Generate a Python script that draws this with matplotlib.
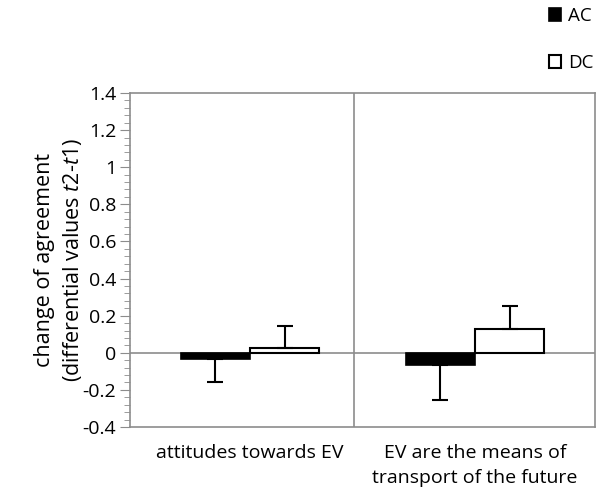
import matplotlib.pyplot as plt
import numpy as np
from matplotlib.ticker import MultipleLocator, FuncFormatter

plt.rcParams['font.family'] = ['Open Sans', 'DejaVu Sans']
plt.rcParams['mathtext.fontset'] = 'custom'
plt.rcParams['mathtext.it'] = 'Open Sans:italic'
plt.rcParams['mathtext.rm'] = 'Open Sans'

categories = ['attitudes towards EV', 'EV are the means of\ntransport of the future']
ac_values = [-0.035, -0.064]
ac_errors = [0.125, 0.19]
dc_values = [0.027, 0.128]
dc_errors = [0.12, 0.125]

gray = '#8c8c8c'
x = np.arange(len(categories))
w = 0.307

fig = plt.figure(figsize=(6.06, 4.91), dpi=100)
ax = fig.add_axes([130 / 606, 1 - 427 / 491, 465 / 606, 334 / 491])

ax.axhline(0, color=gray, linewidth=1.2, zorder=1)
ax.axvline(0.462, color=gray, linewidth=1.2, zorder=1)

ac_bars = ax.bar(x - w / 2, ac_values, w, color='black', edgecolor='black',
                 linewidth=1.2, label='AC', zorder=2)
dc_bars = ax.bar(x + w / 2, dc_values, w, color='white', edgecolor='black',
                 linewidth=1.5, label='DC', zorder=2)

# one-sided error bars (away from zero)
ax.errorbar(x - w / 2, ac_values, yerr=[ac_errors, [0, 0]], fmt='none',
            ecolor='black', elinewidth=1.5, capsize=6, capthick=1.5, zorder=3)
ax.errorbar(x + w / 2, dc_values, yerr=[[0, 0], dc_errors], fmt='none',
            ecolor='black', elinewidth=1.5, capsize=6, capthick=1.5, zorder=3)

ax.set_xlim(-0.533, 1.533)
ax.set_ylim(-0.4, 1.4)
ax.yaxis.set_major_locator(MultipleLocator(0.2))
ax.yaxis.set_minor_locator(MultipleLocator(0.04))
ax.yaxis.set_major_formatter(FuncFormatter(lambda v, p: f'{v:g}' if abs(v) > 1e-9 else '0'))
ax.tick_params(axis='y', which='major', direction='out', length=7, color=gray,
               labelsize=14, pad=3)
ax.tick_params(axis='y', which='minor', direction='out', length=4, color=gray)
ax.set_xticks(x)
ax.set_xticklabels(categories, fontsize=14, linespacing=1.5, va='top')
ax.tick_params(axis='x', length=0, pad=12)

for s in ax.spines.values():
    s.set_color(gray)
    s.set_linewidth(1.2)

ax.set_ylabel('change of agreement\n(differential values $\\it{t2}$-$\\it{t1}$)',
              fontsize=15.5, linespacing=1.3, labelpad=-1)

leg = fig.legend(handles=[ac_bars, dc_bars], labels=['AC', 'DC'], loc='upper left',
                 bbox_to_anchor=(532 / 606, 1.02), frameon=False, fontsize=13.5,
                 handlelength=0.65, handleheight=0.65, handletextpad=0.35,
                 labelspacing=1.55)

fig.savefig('out.png', dpi=100)
